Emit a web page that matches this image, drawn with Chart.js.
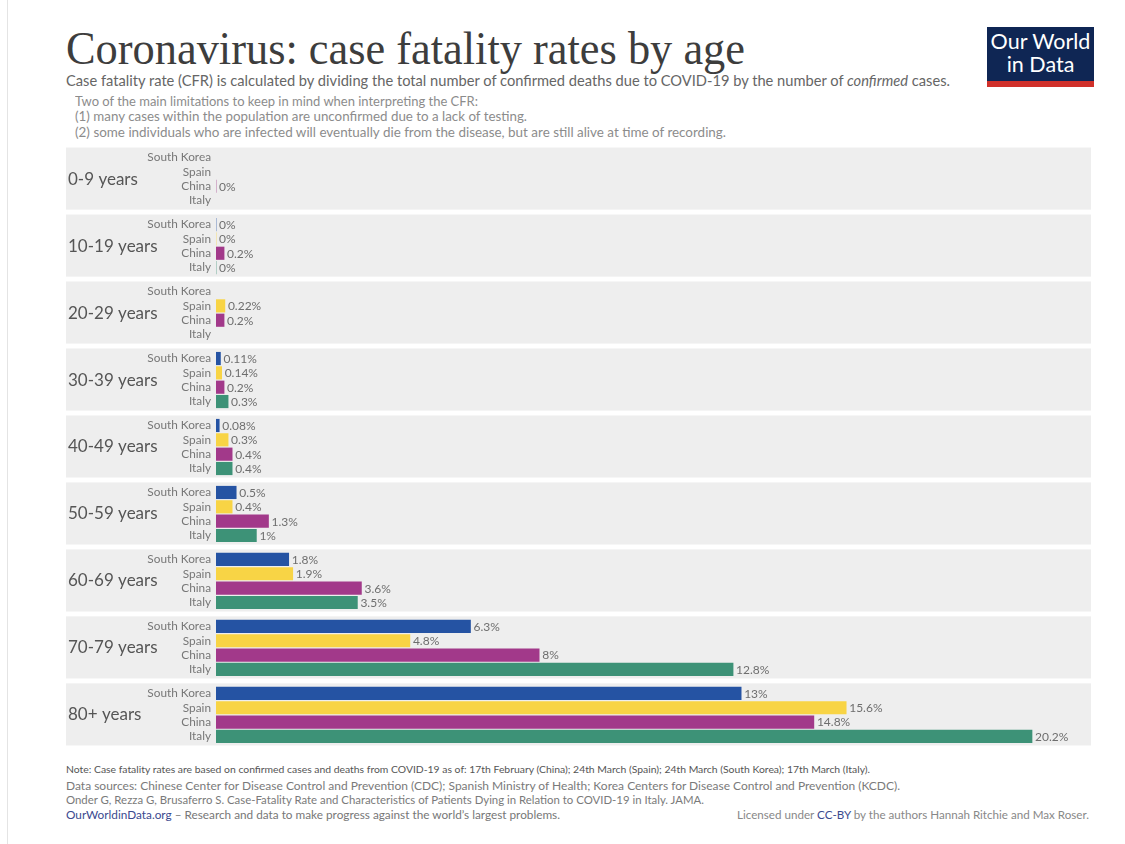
<!DOCTYPE html>
<html>
<head>
<meta charset="utf-8">
<script src="https://cdn.jsdelivr.net/npm/chart.js@4.4.1/dist/chart.umd.min.js"></script>
<style>
  body { margin: 0; background: #fff; width: 1125px; height: 844px; position: relative; overflow: hidden; font-family: Lato, sans-serif; }
  .edge { position: absolute; left: 7px; top: 0; width: 1px; height: 844px; background: #e4e4e4; }
  .txt { position: absolute; white-space: nowrap; transform-origin: left top; }
  #title { left: 66px; top: 22px; font-family: "Liberation Serif", serif; font-size: 46px; color: #3d3d3d; }
  #sub { left: 66px; top: 71px; font-size: 15px; color: #666; }
  .lim { left: 75px; font-size: 13px; color: #8c8c8c; }
  #logo { position: absolute; left: 987px; top: 27px; width: 107px; background: #0f2654; color: #fff; font-size: 21.5px; line-height: 23px; text-align: center; padding-top: 3px; border-bottom: 6px solid #d0302a; height: 51px; }
  #note { left: 66px; top: 763px; font-size: 10.3px; color: #555; }
  .src { left: 66px; font-size: 11.3px; color: #7a7a7a; }
  #owid { left: 66px; top: 808px; font-size: 11.3px; color: #777; }
  #lic { left: 737px; top: 808px; font-size: 11.3px; color: #888; }
  .lnk { color: #3b4a8f; }
  #wrap { position: absolute; left: 0; top: 132px; width: 1125px; height: 629px; }
</style>
</head>
<body>
<div class="edge"></div>
<div class="txt" id="title">Coronavirus: case fatality rates by age</div>
<div class="txt" id="sub">Case fatality rate (CFR) is calculated by dividing the total number of confirmed deaths due to COVID-19 by the number of <i>confirmed</i> cases.</div>
<div class="txt lim" id="lim1" style="top:93px">Two of the main limitations to keep in mind when interpreting the CFR:</div>
<div class="txt lim" id="lim2" style="top:108px">(1) many cases within the population are unconfirmed due to a lack of testing.</div>
<div class="txt lim" id="lim3" style="top:124px">(2) some individuals who are infected will eventually die from the disease, but are still alive at time of recording.</div>
<div id="logo">Our World<br>in Data</div>
<div id="wrap"><canvas id="grafico"></canvas></div>
<div class="txt" id="note">Note: Case fatality rates are based on confirmed cases and deaths from COVID-19 as of: 17th February (China); 24th March (Spain); 24th March (South Korea); 17th March (Italy).</div>
<div class="txt src" id="src1" style="top:779px">Data sources: Chinese Center for Disease Control and Prevention (CDC); Spanish Ministry of Health; Korea Centers for Disease Control and Prevention (KCDC).</div>
<div class="txt src" id="src2" style="top:793px">Onder G, Rezza G, Brusaferro S. Case-Fatality Rate and Characteristics of Patients Dying in Relation to COVID-19 in Italy. JAMA.</div>
<div class="txt" id="owid"><span class="lnk">OurWorldinData.org</span> – Research and data to make progress against the world’s largest problems.</div>
<div class="txt" id="lic">Licensed under <span class="lnk">CC-BY</span> by the authors Hannah Ritchie and Max Roser.</div>

<script>
const faixasEtarias = ['0-9 years', '10-19 years', '20-29 years', '30-39 years', '40-49 years', '50-59 years', '60-69 years', '70-79 years', '80+ years'];
const paises = ['South Korea', 'Spain', 'China', 'Italy'];
// CFR em %, null = sem dado
const coreiaDoSul = [null, 0, null, 0.11, 0.08, 0.5, 1.8, 6.3, 13];
const espanha = [null, 0, 0.22, 0.14, 0.3, 0.4, 1.9, 4.8, 15.6];
const china = [0, 0.2, 0.2, 0.2, 0.4, 1.3, 3.6, 8, 14.8];
const italia = [null, 0, null, 0.3, 0.4, 1, 3.5, 12.8, 20.2];
const coresPaises = ['#2553a3', '#f8d445', '#a2398a', '#3d9277'];

const passoGrupo = 4.67;   // distancia entre grupos, em linhas
const yMin = -0.7;
const yMax = 8 * passoGrupo + 3.63;
const xMax = 21.66;

// ajusta largura dos textos ao layout original
function ajustaLargura(id, largura) {
    var el = document.getElementById(id);
    var w = el.getBoundingClientRect().width;
    el.style.transform = 'scaleX(' + (largura / w) + ')';
}

function montaDatasets() {
    let series = [coreiaDoSul, espanha, china, italia];
    let datasets = [];
    for (let p = 0; p < paises.length; p++) {
        let pontos = [];
        for (let g = 0; g < faixasEtarias.length; g++) {
            if (series[p][g] === null) continue;
            pontos.push({ x: series[p][g], y: g * passoGrupo + p });
        }
        datasets.push({
            label: paises[p],
            data: pontos,
            backgroundColor: coresPaises[p],
            borderWidth: 0,
            barThickness: 12.5,
            grouped: false
        });
    }
    return datasets;
}

const posLinhas = [];
for (let g = 0; g < faixasEtarias.length; g++) {
    for (let p = 0; p < paises.length; p++) posLinhas.push(g * passoGrupo + p);
}

const painelFundo = {
    id: 'painelFundo',
    beforeDraw(chart) {
        var ctx = chart.ctx;
        var y = chart.scales.y;
        var esq = y.left;
        ctx.save();
        for (let g = 0; g < faixasEtarias.length; g++) {
            let topo = y.getPixelForValue(g * passoGrupo - 0.7);
            let base = y.getPixelForValue(g * passoGrupo + 3.63);
            ctx.fillStyle = '#eeeeee';
            ctx.fillRect(esq, topo, chart.chartArea.right - esq, base - topo);
            ctx.fillStyle = '#555';
            ctx.font = '17px Lato';
            ctx.textBaseline = 'middle';
            ctx.fillText(faixasEtarias[g], esq + 2, y.getPixelForValue(g * passoGrupo + 1.5));
        }
        ctx.restore();
    }
};

const rotulosValores = {
    id: 'rotulosValores',
    afterDatasetsDraw(chart) {
        var ctx = chart.ctx;
        ctx.save();
        ctx.font = '12px Lato';
        ctx.fillStyle = '#6e6e6e';
        ctx.textBaseline = 'middle';
        chart.data.datasets.forEach((ds, i) => {
            chart.getDatasetMeta(i).data.forEach((barra, j) => {
                ctx.fillText(ds.data[j].x + '%', barra.x + 3, barra.y + 0.5);
            });
        });
        ctx.restore();
    }
};

window.onload = function() {
    ajustaLargura('title', 679);
    ajustaLargura('sub', 884);
    ajustaLargura('lim1', 403);
    ajustaLargura('lim2', 452);
    ajustaLargura('lim3', 651);
    ajustaLargura('note', 804);
    ajustaLargura('src1', 834);
    ajustaLargura('src2', 638);
    ajustaLargura('owid', 494);
    ajustaLargura('lic', 352);

    var ctx = document.getElementById('grafico').getContext('2d');
    window.grafico = new Chart(ctx, {
        type: 'bar',
        data: { datasets: montaDatasets() },
        plugins: [painelFundo, rotulosValores],
        options: {
            indexAxis: 'y',
            responsive: true,
            maintainAspectRatio: false,
            animation: false,
            layout: { padding: { left: 66, right: 34, top: 7, bottom: 7 } },
            plugins: { legend: { display: false }, tooltip: { enabled: false } },
            scales: {
                x: { type: 'linear', display: false, min: 0, max: xMax },
                y: {
                    type: 'linear',
                    reverse: true,
                    bounds: 'data',
                    min: yMin,
                    max: yMax,
                    grid: { display: false, drawTicks: false },
                    border: { display: false },
                    afterBuildTicks: (s) => {
                        s.ticks = posLinhas.map(v => ({ value: v }));
                        s.min = yMin;
                        s.max = yMax;
                    },
                    afterFit: (s) => {
                        s.width = 150;
                        s.paddingTop = 0;
                        s.paddingBottom = 0;
                    },
                    ticks: {
                        autoSkip: false,
                        padding: 5,
                        color: '#777',
                        font: { family: 'Lato', size: 11.8 },
                        callback: (v, i) => paises[i % 4]
                    }
                }
            }
        }
    });
}
</script>
</body>
</html>
